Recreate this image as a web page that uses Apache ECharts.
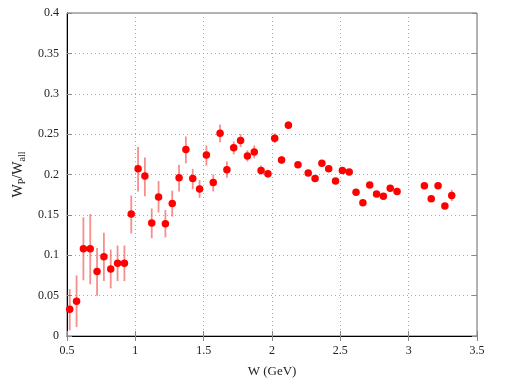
<!DOCTYPE html>
<html>
<head>
<meta charset="utf-8">
<script src="https://cdn.jsdelivr.net/npm/echarts@6/dist/echarts.min.js"></script>
<style>
  html, body { margin: 0; padding: 0; background: #fff; }
  #chart { width: 512px; height: 384px; }
</style>
</head>
<body>
<div id="chart"></div>
<script>
// W (GeV)
var wVals = [0.52, 0.57, 0.62, 0.67, 0.72, 0.77, 0.82, 0.87, 0.92, 0.97,
  1.02, 1.07, 1.12, 1.17, 1.22, 1.27, 1.32, 1.37, 1.42, 1.47,
  1.52, 1.57, 1.62, 1.67, 1.72, 1.77, 1.82, 1.87, 1.92, 1.97,
  2.02, 2.07, 2.12, 2.19, 2.265, 2.315, 2.365, 2.415, 2.465, 2.515,
  2.565, 2.615, 2.665, 2.715, 2.765, 2.815, 2.865, 2.915,
  3.115, 3.165, 3.215, 3.265, 3.315]
// W_P / W_all
var ratio = [0.033, 0.043, 0.108, 0.108, 0.080, 0.098, 0.083, 0.090, 0.090, 0.151,
  0.207, 0.198, 0.140, 0.172, 0.139, 0.164, 0.196, 0.231, 0.195, 0.182,
  0.224, 0.190, 0.251, 0.206, 0.233, 0.242, 0.223, 0.228, 0.205, 0.201,
  0.245, 0.218, 0.261, 0.212, 0.202, 0.195, 0.214, 0.207, 0.192, 0.205,
  0.203, 0.178, 0.165, 0.187, 0.176, 0.173, 0.183, 0.179,
  0.186, 0.170, 0.186, 0.161, 0.174]
var errHigh = [0.058, 0.075, 0.147, 0.151, 0.109, 0.128, 0.107, 0.112, 0.112, 0.174,
  0.234, 0.221, 0.158, 0.192, 0.156, 0.180, 0.212, 0.247, 0.207, 0.193,
  0.236, 0.200, 0.262, 0.216, 0.241, 0.250, 0.230, 0.236, 0.211, 0.206,
  0.251, 0.223, 0.266, 0.215, 0.205, 0.198, 0.217, 0.210, 0.195, 0.208,
  0.206, 0.181, 0.168, 0.190, 0.179, 0.176, 0.186, 0.182,
  0.189, 0.173, 0.189, 0.164, 0.181]
var errLow = [0.007, 0.011, 0.069, 0.064, 0.050, 0.068, 0.059, 0.068, 0.068, 0.127,
  0.179, 0.173, 0.121, 0.153, 0.122, 0.148, 0.179, 0.214, 0.182, 0.171,
  0.211, 0.179, 0.240, 0.196, 0.225, 0.234, 0.216, 0.220, 0.200, 0.196,
  0.239, 0.213, 0.257, 0.209, 0.199, 0.192, 0.211, 0.204, 0.189, 0.202,
  0.200, 0.175, 0.162, 0.184, 0.173, 0.170, 0.180, 0.176,
  0.183, 0.167, 0.183, 0.158, 0.167]

var font = 'Liberation Serif'
var points = wVals.map(function (w, i) { return [w, ratio[i]] })
var bars = wVals.map(function (w, i) { return [w, errLow[i], errHigh[i]] })

var gridLine = { show: true, lineStyle: { color: '#aaa', type: [1, 3], width: 1 } }
var tickIn = { show: true, inside: true, length: 5, lineStyle: { color: '#888' } }

var chart = echarts.init(document.getElementById('chart'))
chart.setOption({
  animation: false,
  grid: { left: 67, right: 35, top: 13, bottom: 48, show: true, borderColor: '#666', borderWidth: 1 },
  xAxis: [{
    type: 'value', min: 0.5, max: 3.5, interval: 0.5,
    name: 'W (GeV)', nameLocation: 'middle', nameGap: 29,
    nameTextStyle: { fontFamily: font, fontSize: 13, color: '#222' },
    axisLine: { show: true, lineStyle: { color: '#000' } },
    axisTick: tickIn,
    axisLabel: { fontFamily: font, fontSize: 12, color: '#222', margin: 9 },
    splitLine: gridLine
  }, {
    type: 'value', min: 0.5, max: 3.5, interval: 0.5, position: 'top',
    axisLine: { show: false }, axisTick: tickIn, axisLabel: { show: false }, splitLine: { show: false }
  }],
  yAxis: [{
    type: 'value', min: 0, max: 0.4, interval: 0.05,
    name: '{a|W}{s|P}{a|/W}{s|all}', nameLocation: 'middle', nameGap: 40, nameRotate: 90,
    nameTextStyle: {
      fontFamily: font, color: '#222',
      rich: {
        a: { fontFamily: font, fontSize: 14, color: '#222' },
        s: { fontFamily: font, fontSize: 10, color: '#222', verticalAlign: 'bottom', padding: [7, 0, 0, 0] }
      }
    },
    axisLine: { show: true, lineStyle: { color: '#000' } },
    axisTick: tickIn,
    axisLabel: { fontFamily: font, fontSize: 12, color: '#222', margin: 8 },
    splitLine: gridLine
  }, {
    type: 'value', min: 0, max: 0.4, interval: 0.05, position: 'right',
    axisLine: { show: false }, axisTick: tickIn, axisLabel: { show: false }, splitLine: { show: false }
  }],
  series: [{
    type: 'custom',
    data: bars,
    z: 2,
    renderItem: function (params, api) {
      var lo = api.coord([api.value(0), api.value(1)])
      var hi = api.coord([api.value(0), api.value(2)])
      return {
        type: 'line',
        shape: { x1: lo[0], y1: lo[1], x2: hi[0], y2: hi[1] },
        style: { stroke: 'rgba(240,50,50,0.55)', lineWidth: 1.8 }
      }
    }
  }, {
    type: 'scatter',
    data: points,
    symbol: 'circle',
    symbolSize: 7.5,
    z: 3,
    itemStyle: { color: '#ff0000', opacity: 1 }
  }]
})
</script>
</body>
</html>
